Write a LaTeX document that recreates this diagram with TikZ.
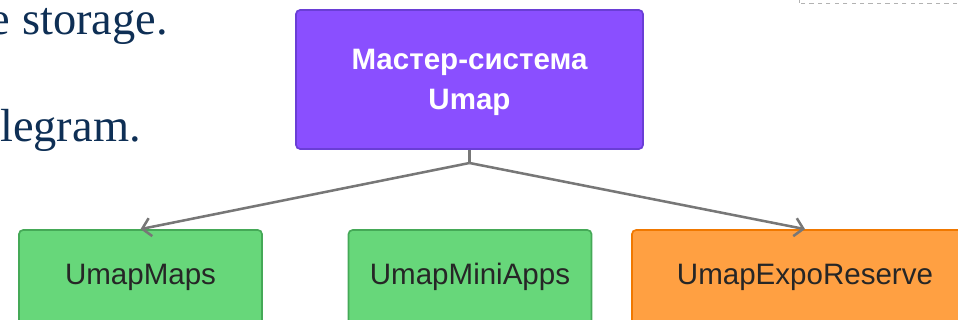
\documentclass[tikz,border=0pt]{standalone}
\usepackage{fontspec}
\setmainfont{Liberation Serif}
\newfontfamily\boxfont{Liberation Sans}
\usepackage{xcolor}
\usetikzlibrary{arrows.meta,positioning,calc}

\definecolor{masterfill}{HTML}{8A4FFF}
\definecolor{masterdraw}{HTML}{6A3ED6}
\definecolor{appfill}{HTML}{67D77A}
\definecolor{appdraw}{HTML}{45A957}
\definecolor{expofill}{HTML}{FFA042}
\definecolor{expodraw}{HTML}{F07800}
\definecolor{slidetext}{HTML}{0E2F55}
\definecolor{linkgray}{HTML}{777777}

\begin{document}
\begin{tikzpicture}[
    x=0.025cm, y=-0.025cm,
    master/.style={rectangle, draw=masterdraw, fill=masterfill, line width=1.2pt, rounded corners=3pt, align=center, minimum width=8.675cm, minimum height=3.475cm, text=white, font=\boxfont\bfseries\fontsize{21}{28.5}\selectfont},
    appbox/.style={rectangle, draw=appdraw, fill=appfill, line width=1.2pt, rounded corners=3pt, align=center, minimum width=6.075cm, minimum height=2.35cm, text=black!85, font=\boxfont\fontsize{21}{25}\selectfont},
    expobox/.style={appbox, draw=expodraw, fill=expofill, minimum width=8.65cm},
    slide/.style={inner sep=0pt, text=slidetext, font=\fontsize{33}{40}\selectfont},
    arr/.style={-{Straight Barb[length=6pt, width=13pt, line width=1.8pt]}, line width=1.8pt, draw=linkgray}
]
    \useasboundingbox (0,0) rectangle (958,320);
    \clip (0,0) rectangle (958,320);

    % slide text behind the diagram
    \node [slide, anchor=base east] (txtstorage) at (168,35) {e storage.};
    \node [slide, anchor=base west] (txttelegram) at (0,142) {legram.};
    \draw [dashed, line width=0.6pt, draw=black!30] (799,3) rectangle (990,-20);

    \node [master] (umap) at (469.5,79.5) {\rule{0pt}{19pt}Мастер-система\\Umap};
    \node [appbox] (maps) at (140.5,277) {UmapMaps};
    \node [appbox] (mini) at (470,277) {UmapMiniApps};
    \node [expobox] (expo) at (805,277) {UmapExpoReserve};

    \coordinate (split) at (469.5,163);
    \draw [line width=1.8pt, draw=linkgray] (umap.south) -- (split);
    \draw [arr] (split) -- (maps.north);
    \draw [arr] (split) -- (expo.north);
\end{tikzpicture}
\end{document}
